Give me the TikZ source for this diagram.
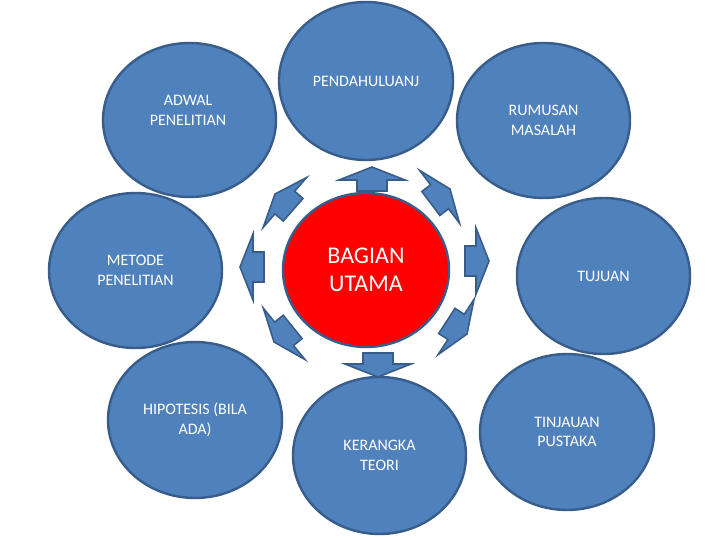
\documentclass[tikz,border=0pt]{standalone}
\usepackage{fontspec}
\setmainfont{Carlito}
\usetikzlibrary{shapes.geometric}
\definecolor{blobfill}{HTML}{4F81BD}
\definecolor{blobline}{HTML}{385D8A}
\definecolor{hubfill}{HTML}{FF0000}
\begin{document}
\begin{tikzpicture}[x=1pt,y=-1pt,
  blob/.style={ellipse, draw=blobline, fill=blobfill, line width=2.4pt, inner sep=0pt,
    text=white, align=center, font=\fontsize{16}{19.5}\selectfont},
  hub/.style={blob, fill=hubfill, font=\fontsize{24}{28}\selectfont},
  lbl/.style={text=white, align=center, inner sep=0pt, font=\fontsize{16}{19.5}\selectfont},
  blockarrow/.style={draw=blobline, fill=blobfill, line width=1.6pt, line join=miter}]
\useasboundingbox (0,0) rectangle (720,540);
\fill[white] (0,0) rectangle (720,540);

% outer ellipses
\node[blob, minimum width=173pt, minimum height=154pt] (adwal) at (189.5,120) {};
\node[lbl] (adwaltext) at (188,110.5) {ADWAL\\PENELITIAN};
\node[blob, minimum width=174pt, minimum height=158pt] (pend) at (366,81) {PENDAHULUANJ};
\node[blob, minimum width=173pt, minimum height=155pt] (rumus) at (543.5,120.5) {RUMUSAN\\MASALAH};
\node[blob, minimum width=173pt, minimum height=156pt] (tujuan) at (603.5,276) {TUJUAN};
\node[blob, minimum width=174pt, minimum height=156pt] (tinjau) at (567,432) {TINJAUAN\\PUSTAKA};
\node[blob, minimum width=173pt, minimum height=157pt] (kerangka) at (379.5,455.5) {KERANGKA\\TEORI};
\node[blob, minimum width=174pt, minimum height=156pt] (hipo) at (195,420) {HIPOTESIS (BILA\\ADA)};
\node[blob, minimum width=173pt, minimum height=155pt] (metode) at (135.5,270.5) {METODE\\PENELITIAN};

% central ellipse
\node[hub, minimum width=166pt, minimum height=154pt] (utama) at (366,270) {BAGIAN\\UTAMA};

% block arrows around the centre
\foreach \tx/\ty/\ang in {372/167/90, 450/189/37, 489/261/0, 467/334/-33,
                          378/377/-90, 274/342/-141, 240/267/180, 275/194/139}{
  \draw[blockarrow, shift={(\tx,\ty)}, rotate=\ang]
    (0,0) -- (-13,-33) -- (-13,-15) -- (-24,-15) -- (-24,15) -- (-13,15) -- (-13,33) -- cycle;
}
\end{tikzpicture}
\end{document}
